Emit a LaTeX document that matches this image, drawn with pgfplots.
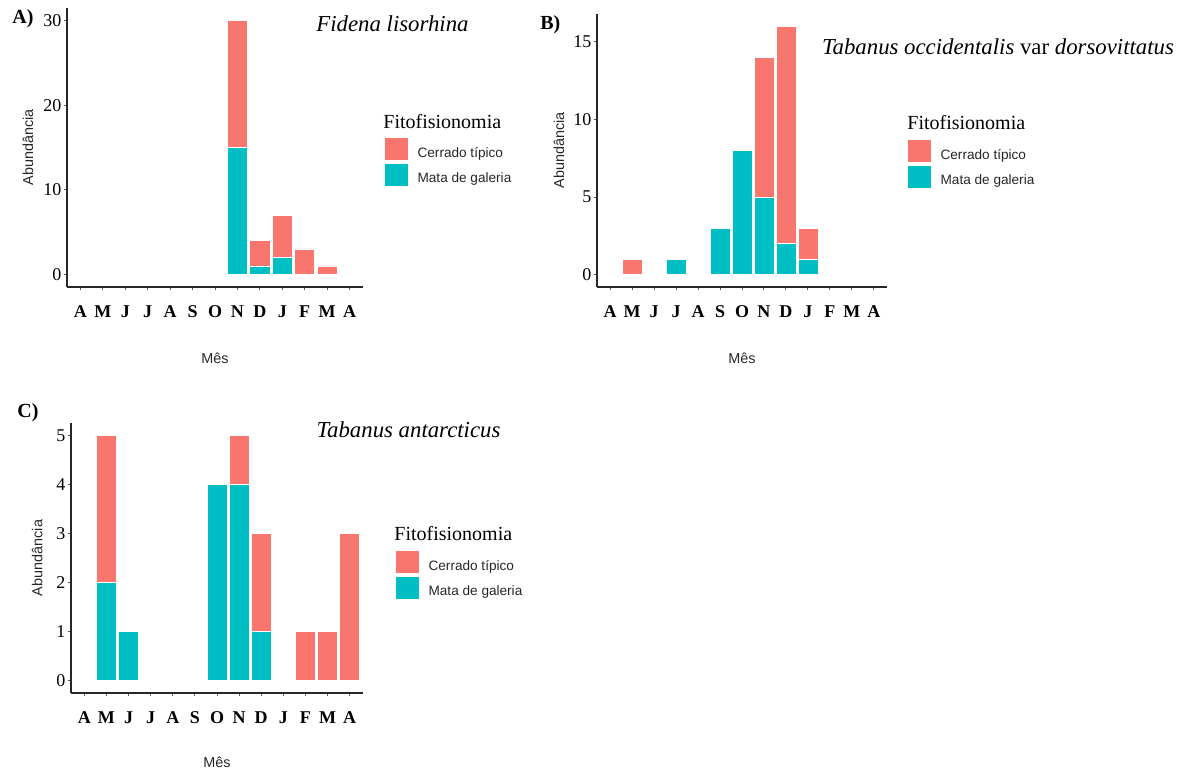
\documentclass[border=0pt]{standalone}
\usepackage{pgfplots}
\pgfplotsset{compat=1.18}
\usepackage{fontspec}
\setmainfont{Liberation Serif}
\setsansfont{Liberation Sans}
\definecolor{cerr}{HTML}{F8766D}
\definecolor{mata}{HTML}{00BFC4}

\pgfplotsset{
  panel/.style={
    scale only axis,
    anchor=south west,
    ybar stacked,
    bar width=0.9,
    xmin=-0.6, xmax=12.6,
    axis x line*=bottom, axis y line*=left,
    axis line style={black!85, line width=0.7pt},
    tick align=outside,
    major tick length=1.6pt,
    tick style={black!65, line width=0.5pt},
    xtick={0,...,12},
    xticklabels={A,M,J,J,A,S,O,N,D,J,F,M,A},
    xticklabel style={font=\fontsize{9}{9}\selectfont\bfseries, anchor=north, inner sep=0pt, yshift=-7.4pt},
    yticklabel style={font=\fontsize{9}{9}\selectfont, anchor=east, inner sep=0pt, xshift=-1pt},
    /pgf/number format/assume math mode=true,
    xlabel={Mês}, ylabel={Abundância},
    label style={font=\sffamily\fontsize{7.2}{7.2}\selectfont, text=black!85},
    clip=false,
    legend style={draw=none, fill=none, anchor=north west, inner sep=0pt, outer sep=0pt,
      row sep=1pt, font=\sffamily\fontsize{6.8}{6.8}\selectfont, text=black!85,
      nodes={inner sep=0pt},
      /tikz/every odd column/.append style={column sep=4.5pt}},
    legend cell align=left,
    reverse legend,
    legend image code/.code={\fill[##1] (0pt,-3.3pt) rectangle (12pt,8.2pt);},
  },
  every axis plot/.append style={draw=white, line width=0.3pt},
}

\begin{document}
\begin{tikzpicture}
\path[use as bounding box] (0,0) rectangle (591.5pt,-384.5pt);

% ---------- Panel A ----------
\begin{axis}[panel,
  at={(33.5pt,-143.5pt)}, width=148pt, height=139.5pt,
  ymin=-1.5, ymax=31.5, ytick={0,10,20,30},
  xlabel style={at={(axis description cs:0.5,-0.254)}, anchor=center},
  ylabel style={at={(axis description cs:-0.132,0.5)}, anchor=center},
  legend style={at={(axis description cs:1.0709,0.5376)}},
]
\addplot[fill=mata] coordinates {(0,0)(1,0)(2,0)(3,0)(4,0)(5,0)(6,0)(7,15)(8,1)(9,2)(10,0)(11,0)(12,0)};
\addplot[fill=cerr] coordinates {(0,0)(1,0)(2,0)(3,0)(4,0)(5,0)(6,0)(7,15)(8,3)(9,5)(10,3)(11,1)(12,0)};
\legend{Mata de galeria, Cerrado típico}
\end{axis}

% ---------- Panel B ----------
\begin{axis}[panel,
  at={(298.5pt,-143.5pt)}, width=145pt, height=136.5pt,
  ymin=-0.8, ymax=16.8, ytick={0,5,10,15},
  xlabel style={at={(axis description cs:0.5,-0.26)}, anchor=center},
  ylabel style={at={(axis description cs:-0.131,0.5)}, anchor=center},
  legend style={at={(axis description cs:1.069,0.542)}},
]
\addplot[fill=mata] coordinates {(0,0)(1,0)(2,0)(3,1)(4,0)(5,3)(6,8)(7,5)(8,2)(9,1)(10,0)(11,0)(12,0)};
\addplot[fill=cerr] coordinates {(0,0)(1,1)(2,0)(3,0)(4,0)(5,0)(6,0)(7,9)(8,14)(9,2)(10,0)(11,0)(12,0)};
\legend{Mata de galeria, Cerrado típico}
\end{axis}

% ---------- Panel C ----------
\begin{axis}[panel,
  at={(35.5pt,-346.5pt)}, width=146pt, height=135pt,
  ymin=-0.25, ymax=5.25, ytick={0,1,2,3,4,5},
  xlabel style={at={(axis description cs:0.5,-0.256)}, anchor=center},
  ylabel style={at={(axis description cs:-0.116,0.5)}, anchor=center},
  legend style={at={(axis description cs:1.1096,0.5296)}},
]
\addplot[fill=mata] coordinates {(0,0)(1,2)(2,1)(3,0)(4,0)(5,0)(6,4)(7,4)(8,1)(9,0)(10,0)(11,0)(12,0)};
\addplot[fill=cerr] coordinates {(0,0)(1,3)(2,0)(3,0)(4,0)(5,0)(6,0)(7,1)(8,2)(9,0)(10,1)(11,1)(12,3)};
\legend{Mata de galeria, Cerrado típico}
\end{axis}

% panel letters
\node[anchor=base west, font=\fontsize{10}{10}\selectfont\bfseries, inner sep=0pt] at (6pt,-12pt) {A)};
\node[anchor=base west, font=\fontsize{10}{10}\selectfont\bfseries, inner sep=0pt] at (270pt,-15pt) {B)};
\node[anchor=base west, font=\fontsize{10}{10}\selectfont\bfseries, inner sep=0pt] at (8.5pt,-209pt) {C)};

% species names
\node[anchor=base, font=\fontsize{11.4}{11.4}\selectfont, inner sep=0pt] at (196.25pt,-16pt) {\textit{Fidena lisorhina}};
\node[anchor=base, font=\fontsize{11.4}{11.4}\selectfont, inner sep=0pt] at (499pt,-27.5pt) {\textit{Tabanus occidentalis} var \textit{dorsovittatus}};
\node[anchor=base, font=\fontsize{11.4}{11.4}\selectfont, inner sep=0pt] at (204.25pt,-219pt) {\textit{Tabanus antarcticus}};

% legend titles
\node[anchor=west, font=\fontsize{10}{10}\selectfont, inner sep=0pt] at (191.5pt,-61pt) {Fitofisionomia};
\node[anchor=west, font=\fontsize{10}{10}\selectfont, inner sep=0pt] at (453.5pt,-61.5pt) {Fitofisionomia};
\node[anchor=west, font=\fontsize{10}{10}\selectfont, inner sep=0pt] at (197pt,-267pt) {Fitofisionomia};
\end{tikzpicture}
\end{document}
